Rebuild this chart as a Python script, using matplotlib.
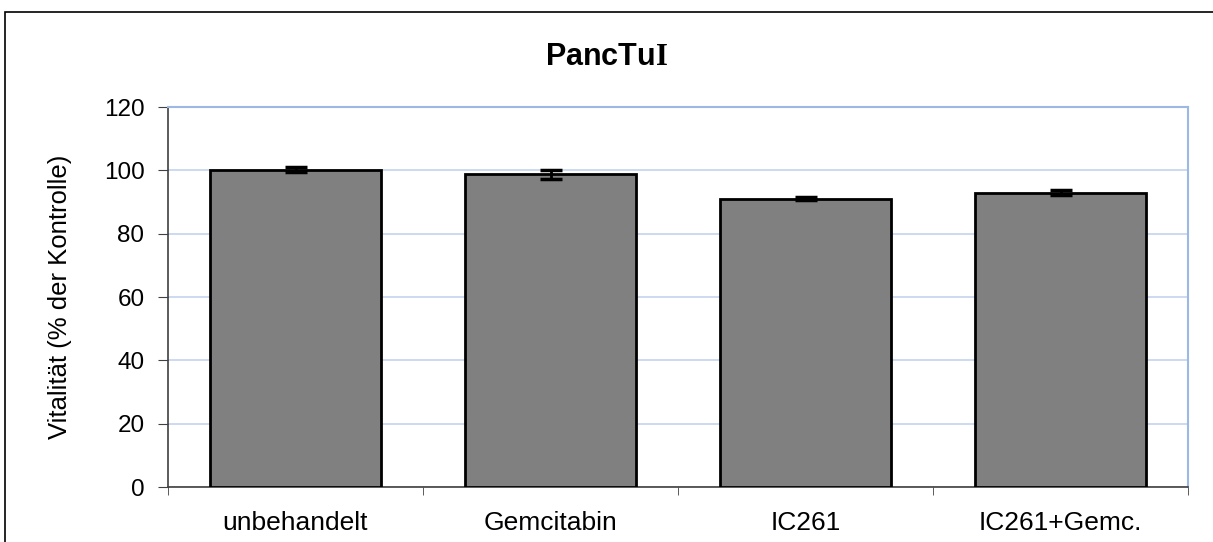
import matplotlib
matplotlib.use('Agg')
import matplotlib.pyplot as plt
from matplotlib.patches import Rectangle
import numpy as np

plt.rcParams['font.family'] = ['Liberation Sans', 'DejaVu Sans']
plt.rcParams['mathtext.fontset'] = 'custom'
plt.rcParams['mathtext.bf'] = 'Liberation Serif:bold'

categories = ['unbehandelt', 'Gemcitabin', 'IC261', 'IC261+Gemc.']
values = [100.2, 98.7, 91.1, 93.0]
errors = [0.8, 1.3, 0.6, 0.7]

W, H = 1213, 542
fig = plt.figure(figsize=(W / 100, H / 100), dpi=100)
ax = fig.add_axes([168 / W, 1 - 487 / H, (1188 - 168) / W, (487 - 107) / H])

x = np.arange(len(categories))
ax.bar(x, values, width=0.67, color='#808080', edgecolor='black', linewidth=2, zorder=3)
ax.errorbar(x, values, yerr=errors, fmt='none', ecolor='black', elinewidth=2,
            capsize=8, capthick=2.5, zorder=4)

ax.set_xlim(-0.5, len(categories) - 0.5)
ax.set_ylim(0, 120)
ax.set_yticks(range(0, 121, 20))
ax.set_xticks(x)
ax.set_xticklabels(categories, fontsize=19)
ax.set_xticks(np.arange(-0.5, len(categories), 1), minor=True)
ax.tick_params(axis='x', which='major', length=0, pad=17)
ax.tick_params(axis='x', which='minor', length=6, color='#404040', direction='out')
ax.tick_params(axis='y', labelsize=17.5, length=7, color='#404040', pad=10)

ax.yaxis.grid(True, color='#c5d3ee', linewidth=1.2, zorder=0)
ax.spines['top'].set_color('#9db8e5')
ax.spines['right'].set_color('#9db8e5')
ax.spines['top'].set_linewidth(1.5)
ax.spines['right'].set_linewidth(1.5)
ax.spines['left'].set_color('#404040')
ax.spines['bottom'].set_color('#404040')
ax.spines['left'].set_linewidth(1.2)
ax.spines['bottom'].set_linewidth(1.2)

ax.set_ylabel('Vitalität (% der Kontrolle)', fontsize=18.5)
ax.yaxis.set_label_coords(-(168 - 72) / (1188 - 168), 0.5)
fig.text(607 / W, 1 - 57 / H, r'PancTu$\mathbf{I}$', ha='center', va='center',
         fontsize=22, fontweight='bold')

# outer chart frame
fig.patches.append(Rectangle((5 / W, -0.05), 1.1, 1 - 12 / H + 0.05,
                             transform=fig.transFigure, fill=False,
                             edgecolor='black', linewidth=1.2))

fig.savefig('out.png', dpi=100)
